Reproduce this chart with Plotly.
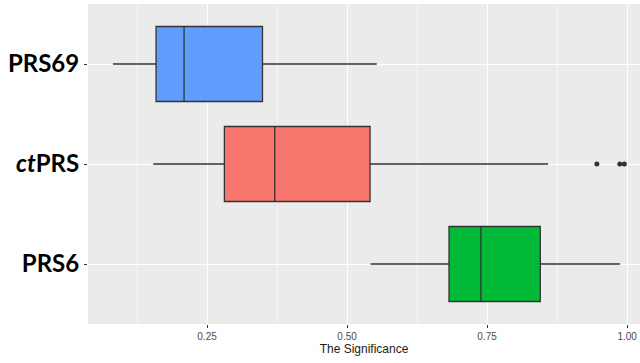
import plotly.graph_objects as go

# Category order from bottom to top on the y axis
groups = ["PRS6", "ctPRS", "PRS69"]
group_labels = ["<b>PRS6</b>", "<b><i>ct</i>PRS</b>", "<b>PRS69</b>"]
colors = ["#00BA38", "#F8766D", "#619CFF"]

# Five-number summaries of the significance per score
lower = [0.542, 0.154, 0.082]
q1 = [0.682, 0.281, 0.159]
median = [0.739, 0.371, 0.209]
q3 = [0.845, 0.541, 0.349]
upper = [0.987, 0.859, 0.553]

# Points beyond the whiskers
outlier_group = ["ctPRS", "ctPRS", "ctPRS"]
outlier_value = [0.946, 0.987, 0.995]

major_ticks = [0.25, 0.50, 0.75, 1.00]
major_labels = ["0.25", "0.50", "0.75", "1.00"]
minor_ticks = [0.125, 0.375, 0.625, 0.875]

fig = go.Figure()

for i, g in enumerate(groups):
    fig.add_trace(go.Box(
        y=[g], orientation="h",
        q1=[q1[i]], median=[median[i]], q3=[q3[i]],
        lowerfence=[lower[i]], upperfence=[upper[i]],
        fillcolor=colors[i],
        line=dict(color="#333333", width=1.3),
        whiskerwidth=0,
        width=0.75,
        boxpoints=False,
        showlegend=False,
        hoverinfo="skip",
    ))

fig.add_trace(go.Scatter(
    x=outlier_value, y=outlier_group, mode="markers",
    marker=dict(color="#333333", size=5),
    showlegend=False, hoverinfo="skip",
))

fig.update_layout(
    width=640, height=363,
    margin=dict(l=88, r=0, t=4, b=39),
    paper_bgcolor="white",
    plot_bgcolor="#EBEBEB",
    font=dict(family="Liberation Sans, Arial, sans-serif"),
)

fig.update_xaxes(
    range=[0.0375, 1.023],
    tickvals=major_ticks, ticktext=major_labels,
    tickfont=dict(size=10, color="#4D4D4D"),
    ticks="outside", ticklen=3, tickcolor="#333333", tickwidth=1,
    showgrid=True, gridcolor="white", gridwidth=1.4,
    minor=dict(tickvals=minor_ticks, showgrid=True, gridcolor="#F7F7F7", gridwidth=0.7, ticks=""),
    zeroline=False, showline=False,
    title=dict(text="The Significance", font=dict(size=12, color="#1A1A1A"), standoff=2),
)

fig.update_yaxes(
    type="category",
    categoryorder="array", categoryarray=groups,
    tickvals=groups, ticktext=group_labels,
    range=[-0.6, 2.6],
    tickfont=dict(size=24, color="black", family="Lato, Liberation Sans, sans-serif"),
    ticks="outside", ticklen=3, tickcolor="#333333", tickwidth=1,
    showgrid=True, gridcolor="white", gridwidth=1.4,
    zeroline=False, showline=False,
)

fig.write_html("out.html")
